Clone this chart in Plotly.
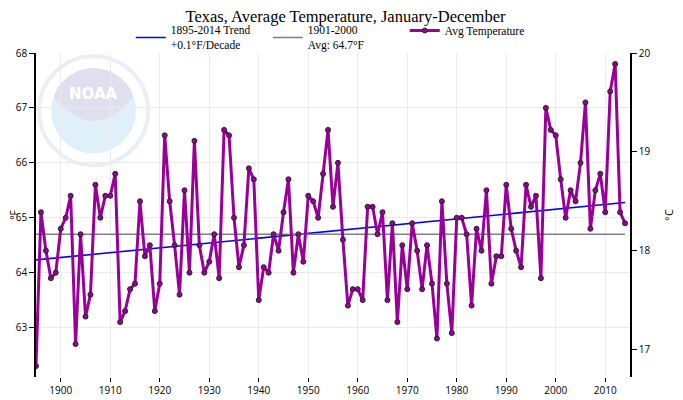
import numpy as np
import plotly.graph_objects as go

years = list(range(1895, 2015))
avg_temp = [
    62.3, 65.1, 64.4, 63.9, 64.0, 64.8, 65.0, 65.4, 62.7, 64.7,  # 1895-1904
    63.2, 63.6, 65.6, 65.0, 65.4, 65.4, 65.8, 63.1, 63.3, 63.7,  # 1905-1914
    63.8, 65.3, 64.3, 64.5, 63.3, 63.8, 66.5, 65.3, 64.5, 63.6,  # 1915-1924
    65.5, 64.0, 66.4, 64.5, 64.0, 64.2, 64.7, 63.9, 66.6, 66.5,  # 1925-1934
    65.0, 64.1, 64.5, 65.9, 65.7, 63.5, 64.1, 64.0, 64.7, 64.4,  # 1935-1944
    65.1, 65.7, 64.0, 64.7, 64.2, 65.4, 65.3, 65.0, 65.8, 66.6,  # 1945-1954
    65.2, 66.0, 64.6, 63.4, 63.7, 63.7, 63.5, 65.2, 65.2, 64.7,  # 1955-1964
    65.1, 63.5, 64.9, 63.1, 64.5, 63.7, 64.9, 64.4, 63.7, 64.5,  # 1965-1974
    63.8, 62.8, 65.3, 63.8, 62.9, 65.0, 65.0, 64.7, 63.4, 64.8,  # 1975-1984
    64.4, 65.5, 63.8, 64.3, 64.3, 65.6, 64.8, 64.4, 64.1, 65.6,  # 1985-1994
    65.2, 65.4, 63.9, 67.0, 66.6, 66.5, 65.7, 65.0, 65.5, 65.3,  # 1995-2004
    66.0, 67.1, 64.8, 65.5, 65.8, 65.1, 67.3, 67.8, 65.1, 64.9,  # 2005-2014
]
century_avg = 64.7
trend_label = "1895-2014 Trend<br>+0.1°F/Decade"
avg_label = "1901-2000<br>Avg: 64.7°F"
series_label = "Avg Temperature"
title_text = "Texas, Average Temperature, January-December"
f_ticks = [63, 64, 65, 66, 67, 68]
c_ticks = [17, 18, 19, 20]
f_range = [62.1, 68.0]

x = np.array(years, dtype=float)
y = np.array(avg_temp)
slope, intercept = np.polyfit(x, y, 1)
trend_x = [years[0], years[-1]]
trend_y = [intercept + slope * years[0], intercept + slope * years[-1]]

def f_to_c(v):
    return (v - 32.0) * 5.0 / 9.0

# figure geometry (page has an 8px body margin)
W, H = 675, 392
ML, MR, MT, MB = 27.7, 53.0, 45.3, 23.3
PW, PH = W - ML - MR, H - MT - MB

def px(xp, yp):
    """figure-pixel position -> paper coords"""
    return (xp - ML) / PW, (H - MB - yp) / PH

fig = go.Figure()
fig.add_trace(go.Scatter(
    x=trend_x, y=trend_y, mode="lines", name=trend_label,
    line=dict(color="#0000ff", width=1.6), hoverinfo="skip"))
fig.add_trace(go.Scatter(
    x=[years[0], years[-1]], y=[century_avg, century_avg], mode="lines", name=avg_label,
    line=dict(color="#808080", width=1.6), hoverinfo="skip"))
fig.add_trace(go.Scatter(
    x=years, y=avg_temp, mode="lines+markers", name=series_label,
    line=dict(color="#990099", width=3),
    marker=dict(size=5, color="#990099", line=dict(color="#222222", width=1))))
fig.add_trace(go.Scatter(
    x=years, y=[f_to_c(v) for v in avg_temp], yaxis="y2", mode="lines",
    line=dict(color="rgba(0,0,0,0)", width=0), showlegend=False, hoverinfo="skip"))

# faint NOAA-style watermark
cx, cy, r = 85.3, 103.0, 42.5
x0, y0 = px(cx - r, cy + r)
x1, y1 = px(cx + r, cy - r)
shapes = [dict(type="circle", xref="paper", yref="paper", x0=x0, y0=y0, x1=x1, y1=y1,
               fillcolor="#dff0fa", line=dict(width=0), layer="below")]
pts = []
for a in np.linspace(np.radians(160), np.radians(20), 30):
    pts.append(px(cx + r * np.cos(a), cy - r * np.sin(a)))
ctrl = px(cx, cy + 35)
end = px(cx + r * np.cos(np.radians(160)), cy - r * np.sin(np.radians(160)))
path = "M " + " L ".join(f"{p[0]:.5f},{p[1]:.5f}" for p in pts)
path += f" Q {ctrl[0]:.5f},{ctrl[1]:.5f} {end[0]:.5f},{end[1]:.5f} Z"
shapes.append(dict(type="path", xref="paper", yref="paper", path=path,
                   fillcolor="#e0dff0", line=dict(width=0), layer="below"))
rx0, ry0 = px(cx - r - 12, cy + r + 12)
rx1, ry1 = px(cx + r + 12, cy - r - 12)
shapes.append(dict(type="circle", xref="paper", yref="paper", x0=rx0, y0=ry0, x1=rx1, y1=ry1,
                   line=dict(color="#e8eff7", width=4), layer="below"))
nx, ny = px(cx, cy - 17)
fx, fy = px(5.5, 215 - 8)

tickfont = dict(family="Open Sans", size=10, color="#000000")
fig.update_layout(
    width=W, height=H,
    margin=dict(l=ML, r=MR, t=MT, b=MB, autoexpand=False),
    paper_bgcolor="white", plot_bgcolor="white",
    title=dict(text=title_text, x=0.5, xanchor="center", y=0.995, yanchor="top",
               font=dict(family="Liberation Serif", size=16.5, color="#000000")),
    showlegend=True,
    legend=dict(orientation="h", x=px(122.5, 0)[0], xanchor="left", y=0.9815, yanchor="bottom",
                entrywidth=92, entrywidthmode="pixels",
                font=dict(family="Liberation Serif", size=11.5, color="#000000"),
                bgcolor="rgba(0,0,0,0)", itemclick=False, tracegroupgap=0),
    shapes=shapes,
    annotations=[
        dict(text="<b>NOAA</b>", xref="paper", yref="paper", x=nx, y=ny,
             xanchor="center", yanchor="middle", showarrow=False,
             font=dict(family="DejaVu Sans", size=15, color="#ffffff")),
        dict(text="°F", xref="paper", yref="paper", x=fx, y=fy, textangle=-90,
             xanchor="center", yanchor="middle", showarrow=False,
             font=dict(family="Open Sans", size=10, color="#000000")),
    ],
    xaxis=dict(range=[1895, 2015], tick0=1900, dtick=10, ticks="outside", ticklen=4,
               tickcolor="#000000", showgrid=True, gridcolor="#ebebeb", showline=False,
               zeroline=False, tickfont=tickfont, automargin=False),
    yaxis=dict(range=f_range, tickvals=f_ticks, ticks="outside", ticklen=5,
               tickcolor="#000000", showline=True, linecolor="#000000", linewidth=1.5,
               showgrid=True, gridcolor="#ebebeb", zeroline=False, tickfont=tickfont,
               automargin=False),
    yaxis2=dict(range=[f_to_c(f_range[0]), f_to_c(f_range[1])], tickvals=c_ticks,
                overlaying="y", side="right", ticks="outside", ticklen=5,
                tickcolor="#000000", showline=True, linecolor="#000000", linewidth=1.5,
                showgrid=False, zeroline=False, tickfont=tickfont, automargin=False,
                title=dict(text="°C", font=dict(family="Open Sans", size=11, color="#000000"),
                           standoff=16)),
)
fig.write_html("out.html")
